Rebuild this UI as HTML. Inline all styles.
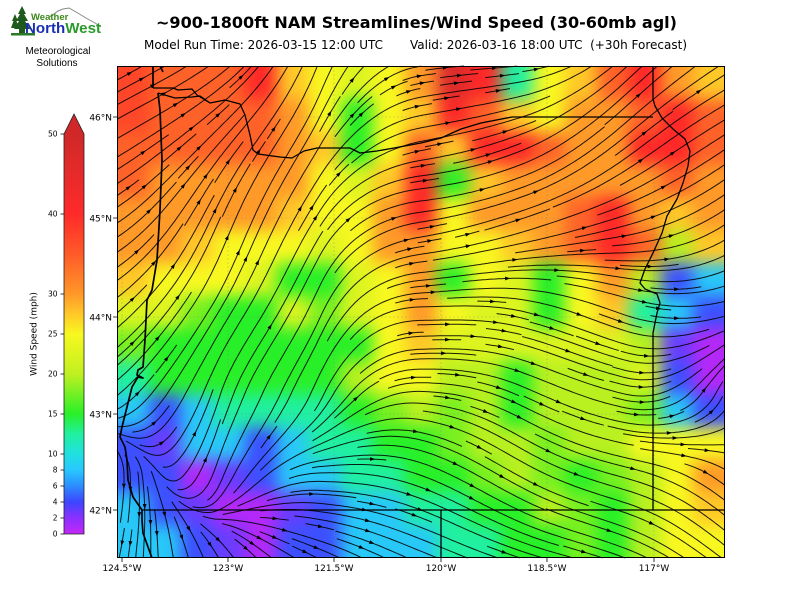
<!DOCTYPE html>
<html><head><meta charset="utf-8">
<style>
html,body{margin:0;padding:0;background:#fff}
body{width:800px;height:600px;position:relative;overflow:hidden;font-family:"DejaVu Sans","Liberation Sans",sans-serif}
#clip{position:absolute;left:117px;top:66px;width:608px;height:492px;overflow:hidden}
#fld{position:absolute;left:-32px;top:-32.8px;width:672px;display:grid;grid-template-columns:repeat(21,32px);grid-auto-rows:32.8px;filter:blur(8px)}
#fld i{display:block}
.P{background:#b428f8}.M{background:#6a3cff}.B{background:#3c50ff}.C{background:#28c8f8}
.T{background:#20f0a0}.G{background:#28f028}.H{background:#78f020}.L{background:#b8f020}
.S{background:#dcf420}.Y{background:#f8f820}.Q{background:#ffc828}.O{background:#ff9a28}
.R{background:#ff6228}.E{background:#ff4628}.D{background:#ff2828}.K{background:#dc2c2c}
svg{position:absolute;left:0;top:0}
</style></head><body>
<div id="clip"><div id="fld">
<i class=E></i><i class=E></i><i class=R></i><i class=R></i><i class=R></i><i class=D></i><i class=Q></i><i class=Y></i><i class=S></i><i class=Y></i><i class=O></i><i class=K></i><i class=D></i><i class=T></i><i class=Y></i><i class=Q></i><i class=R></i><i class=D></i><i class=O></i><i class=Q></i><i class=Q></i>
<i class=E></i><i class=E></i><i class=R></i><i class=R></i><i class=R></i><i class=D></i><i class=Q></i><i class=Y></i><i class=S></i><i class=Y></i><i class=O></i><i class=K></i><i class=D></i><i class=T></i><i class=Y></i><i class=Q></i><i class=R></i><i class=D></i><i class=O></i><i class=Q></i><i class=Q></i>
<i class=E></i><i class=E></i><i class=R></i><i class=R></i><i class=R></i><i class=R></i><i class=O></i><i class=Y></i><i class=G></i><i class=Y></i><i class=Q></i><i class=D></i><i class=R></i><i class=Q></i><i class=Y></i><i class=O></i><i class=O></i><i class=R></i><i class=D></i><i class=R></i><i class=R></i>
<i class=R></i><i class=R></i><i class=R></i><i class=R></i><i class=R></i><i class=R></i><i class=O></i><i class=Q></i><i class=G></i><i class=Y></i><i class=R></i><i class=Q></i><i class=D></i><i class=D></i><i class=R></i><i class=O></i><i class=O></i><i class=D></i><i class=D></i><i class=R></i><i class=R></i>
<i class=R></i><i class=R></i><i class=O></i><i class=O></i><i class=O></i><i class=O></i><i class=O></i><i class=Y></i><i class=S></i><i class=Q></i><i class=D></i><i class=G></i><i class=Q></i><i class=O></i><i class=O></i><i class=O></i><i class=O></i><i class=O></i><i class=R></i><i class=O></i><i class=O></i>
<i class=O></i><i class=O></i><i class=O></i><i class=O></i><i class=O></i><i class=O></i><i class=Q></i><i class=Y></i><i class=Y></i><i class=O></i><i class=D></i><i class=Y></i><i class=O></i><i class=O></i><i class=O></i><i class=R></i><i class=D></i><i class=O></i><i class=Q></i><i class=O></i><i class=O></i>
<i class=O></i><i class=O></i><i class=O></i><i class=Q></i><i class=Y></i><i class=Y></i><i class=Y></i><i class=S></i><i class=Y></i><i class=O></i><i class=O></i><i class=Y></i><i class=Y></i><i class=Q></i><i class=O></i><i class=R></i><i class=D></i><i class=R></i><i class=L></i><i class=Q></i><i class=Q></i>
<i class=Q></i><i class=Q></i><i class=Y></i><i class=Y></i><i class=Y></i><i class=S></i><i class=G></i><i class=G></i><i class=S></i><i class=Y></i><i class=O></i><i class=G></i><i class=Y></i><i class=S></i><i class=G></i><i class=Y></i><i class=O></i><i class=L></i><i class=B></i><i class=C></i><i class=C></i>
<i class=S></i><i class=S></i><i class=S></i><i class=H></i><i class=G></i><i class=G></i><i class=S></i><i class=H></i><i class=S></i><i class=Y></i><i class=O></i><i class=Y></i><i class=S></i><i class=S></i><i class=G></i><i class=Y></i><i class=Q></i><i class=T></i><i class=C></i><i class=B></i><i class=B></i>
<i class=H></i><i class=H></i><i class=G></i><i class=G></i><i class=G></i><i class=G></i><i class=G></i><i class=G></i><i class=G></i><i class=Y></i><i class=Q></i><i class=S></i><i class=S></i><i class=S></i><i class=S></i><i class=S></i><i class=S></i><i class=L></i><i class=M></i><i class=P></i><i class=P></i>
<i class=T></i><i class=T></i><i class=G></i><i class=G></i><i class=G></i><i class=G></i><i class=G></i><i class=G></i><i class=L></i><i class=Y></i><i class=Y></i><i class=L></i><i class=L></i><i class=G></i><i class=L></i><i class=L></i><i class=L></i><i class=S></i><i class=B></i><i class=P></i><i class=P></i>
<i class=C></i><i class=C></i><i class=B></i><i class=C></i><i class=T></i><i class=T></i><i class=T></i><i class=T></i><i class=G></i><i class=H></i><i class=L></i><i class=H></i><i class=L></i><i class=G></i><i class=L></i><i class=L></i><i class=L></i><i class=H></i><i class=C></i><i class=B></i><i class=B></i>
<i class=B></i><i class=B></i><i class=M></i><i class=C></i><i class=C></i><i class=B></i><i class=C></i><i class=T></i><i class=T></i><i class=G></i><i class=G></i><i class=H></i><i class=L></i><i class=L></i><i class=H></i><i class=L></i><i class=L></i><i class=Y></i><i class=Y></i><i class=Y></i><i class=Y></i>
<i class=B></i><i class=B></i><i class=B></i><i class=P></i><i class=M></i><i class=B></i><i class=C></i><i class=C></i><i class=T></i><i class=T></i><i class=G></i><i class=G></i><i class=H></i><i class=L></i><i class=H></i><i class=G></i><i class=H></i><i class=L></i><i class=Y></i><i class=O></i><i class=O></i>
<i class=C></i><i class=C></i><i class=B></i><i class=M></i><i class=P></i><i class=P></i><i class=M></i><i class=B></i><i class=C></i><i class=C></i><i class=T></i><i class=T></i><i class=G></i><i class=G></i><i class=L></i><i class=H></i><i class=G></i><i class=L></i><i class=Y></i><i class=Q></i><i class=Q></i>
<i class=C></i><i class=C></i><i class=C></i><i class=B></i><i class=M></i><i class=P></i><i class=B></i><i class=B></i><i class=C></i><i class=C></i><i class=C></i><i class=T></i><i class=T></i><i class=G></i><i class=G></i><i class=H></i><i class=G></i><i class=L></i><i class=Y></i><i class=Y></i><i class=Y></i>
<i class=C></i><i class=C></i><i class=C></i><i class=B></i><i class=M></i><i class=P></i><i class=B></i><i class=B></i><i class=C></i><i class=C></i><i class=C></i><i class=T></i><i class=T></i><i class=G></i><i class=G></i><i class=H></i><i class=G></i><i class=L></i><i class=Y></i><i class=Y></i><i class=Y></i>
</div></div>

<svg width="800" height="600" viewBox="0 0 800 600">
<defs>
<clipPath id="pc"><rect x="117" y="66" width="608" height="492"/></clipPath>
<linearGradient id="cb" x1="0" y1="0" x2="0" y2="1">
<stop offset="0" stop-color="#d02828"/>
<stop offset="0.1" stop-color="#e62a2a"/>
<stop offset="0.2" stop-color="#ff2a2a"/>
<stop offset="0.3" stop-color="#ff5a28"/>
<stop offset="0.4" stop-color="#ff9828"/>
<stop offset="0.45" stop-color="#ffc828"/>
<stop offset="0.5" stop-color="#f8f820"/>
<stop offset="0.6" stop-color="#c0f020"/>
<stop offset="0.7" stop-color="#28f028"/>
<stop offset="0.75" stop-color="#20f0a0"/>
<stop offset="0.8" stop-color="#20e0e0"/>
<stop offset="0.84" stop-color="#28c8ff"/>
<stop offset="0.88" stop-color="#2c8cff"/>
<stop offset="0.92" stop-color="#3c46ff"/>
<stop offset="0.96" stop-color="#8a30ff"/>
<stop offset="1" stop-color="#c428f8"/>
</linearGradient>
</defs>

<g clip-path="url(#pc)" stroke="#777" stroke-width="0.6" stroke-dasharray="2,2" opacity="0.45" fill="none">
<path d="M117,117H725M117,218H725M117,317H725M117,414H725M122,66V558M228,66V558M334,66V558M441,66V558M547,66V558M654,66V558"/>
</g>

<g transform="translate(117,66)">
<path id="sl" d="" fill="none" stroke="#000" stroke-width="1" stroke-opacity="0.88"/>
<path id="ar" d="" fill="#000" stroke="none"/>
</g>

<g clip-path="url(#pc)" fill="none" stroke="#000" stroke-linejoin="round">
<path stroke-width="1.7" d="M153,66L153,88M160,66L163,72M158,93L160,110L162,160L160,210L157,260L152,290L147,300L145,340L143,367L138,370L137,375L143,378L138,377L132,387L127,407L122,427L120,437L125,447L127,460L128,480L133,497L142,510L142,520L143,533L148,547L152,558"/>
<path stroke-width="1.3" d="M153,88L173,88L178,90L192,89L197,95L210,103L225,100L240,104L245,115L250,135L253,150L258,154L280,157L292,158L304,151L317,148L350,148L360,153L377,151L394,148L421,143L441,138L461,129L481,123L512,117L653,117M158,93L175,98L192,97L200,96L210,103"/>
<path stroke-width="1.3" d="M653,66L653,99L655,106L662,118L673,129L685,139L690,151L688,166L683,183L677,199L667,216L662,233L653,253L645,269L640,283L645,289L657,294L660,303L657,313L653,333L653,510M142,510L725,510M441,510L441,558"/>
</g>

<rect x="117.5" y="66.5" width="607" height="491" fill="none" stroke="#000" stroke-width="1"/>

<g stroke="#000" stroke-width="0.8">
<path d="M113,117H117M113,218H117M113,317H117M113,414H117M113,510H117M122,558V562M228,558V562M334,558V562M441,558V562M547,558V562M654,558V562"/>
</g>
<g font-family="DejaVu Sans, Liberation Sans, sans-serif" font-size="9" fill="#000">
<text x="112" y="120.5" text-anchor="end">46°N</text>
<text x="112" y="221.5" text-anchor="end">45°N</text>
<text x="112" y="320.5" text-anchor="end">44°N</text>
<text x="112" y="417.5" text-anchor="end">43°N</text>
<text x="112" y="513.5" text-anchor="end">42°N</text>
<text x="122" y="571" text-anchor="middle">124.5°W</text>
<text x="228" y="571" text-anchor="middle">123°W</text>
<text x="334" y="571" text-anchor="middle">121.5°W</text>
<text x="441" y="571" text-anchor="middle">120°W</text>
<text x="547" y="571" text-anchor="middle">118.5°W</text>
<text x="654" y="571" text-anchor="middle">117°W</text>
</g>

<!-- colorbar -->
<rect x="64" y="134" width="20" height="400" fill="url(#cb)"/>
<polygon points="64,134 84,134 74,114" fill="#d02828"/>
<path d="M64,534L64,134L74,114L84,134L84,534Z" fill="none" stroke="#222" stroke-width="0.8"/>
<g stroke="#000" stroke-width="0.8">
<path d="M60.5,134H64M60.5,214H64M60.5,294H64M60.5,334H64M60.5,374H64M60.5,414H64M60.5,454H64M60.5,470H64M60.5,486H64M60.5,502H64M60.5,518H64M60.5,534H64"/>
</g>
<g font-family="DejaVu Sans, Liberation Sans, sans-serif" font-size="7.5" fill="#000" text-anchor="end">
<text x="57.5" y="136.7">50</text>
<text x="57.5" y="216.7">40</text>
<text x="57.5" y="296.7">30</text>
<text x="57.5" y="336.7">25</text>
<text x="57.5" y="376.7">20</text>
<text x="57.5" y="416.7">15</text>
<text x="57.5" y="456.7">10</text>
<text x="57.5" y="472.7">8</text>
<text x="57.5" y="488.7">6</text>
<text x="57.5" y="504.7">4</text>
<text x="57.5" y="520.7">2</text>
<text x="57.5" y="536.7">0</text>
</g>
<text x="0" y="0" transform="translate(36.5,334) rotate(-90)" text-anchor="middle" font-family="DejaVu Sans, Liberation Sans, sans-serif" font-size="9" fill="#000">Wind Speed (mph)</text>

<!-- titles -->
<text x="416.5" y="28" text-anchor="middle" font-family="DejaVu Sans, Liberation Sans, sans-serif" font-weight="bold" font-size="16" fill="#000" textLength="521" lengthAdjust="spacingAndGlyphs">~900-1800ft NAM Streamlines/Wind Speed (30-60mb agl)</text>
<text x="144" y="49" font-family="DejaVu Sans, Liberation Sans, sans-serif" font-size="12" fill="#000" textLength="239" lengthAdjust="spacingAndGlyphs">Model Run Time: 2026-03-15 12:00 UTC</text>
<text x="410" y="49" font-family="DejaVu Sans, Liberation Sans, sans-serif" font-size="12" fill="#000" textLength="277" lengthAdjust="spacingAndGlyphs" xml:space="preserve">Valid: 2026-03-16 18:00 UTC  (+30h Forecast)</text>

<!-- logo -->
<path d="M50,17L58,11L63,9L69,8L76,12L86,18L95,23L101,27" fill="none" stroke="#888" stroke-width="1"/>
<g fill="#1e5a1e">
<polygon points="22,6 18,14 20,14 16,21 19,21 14,29 19,29 19,33 25,33 25,29 30,29 25,21 28,21 24,14 26,14"/>
<polygon points="15,14 12,21 13.5,21 11,28 19,28 16.5,21 18,21"/>
</g>
<rect x="11" y="33" width="24" height="2.5" fill="#2a7a2a"/>
<text x="31" y="20" font-family="Liberation Sans, sans-serif" font-weight="bold" font-size="9.5" fill="#3a8a1a">Weather</text>
<text x="25" y="33" font-family="Liberation Sans, sans-serif" font-weight="bold" font-size="15" textLength="76" lengthAdjust="spacingAndGlyphs"><tspan fill="#1a2fb0">North</tspan><tspan fill="#2a9a2a">West</tspan></text>
<text x="58" y="54" text-anchor="middle" font-family="Liberation Sans, sans-serif" font-size="10" fill="#000">Meteorological</text>
<text x="57" y="66" text-anchor="middle" font-family="Liberation Sans, sans-serif" font-size="10" fill="#000">Solutions</text>
</svg>

<script>
(function(){
var W=608,H=492,cs=7.5,minL=24,h=1.0;
var A=[
[-35,-45,-60,-5,-10,-40,-40],
[-35,-50,-60,-20,-15,-30,-40],
[-35,-55,-60,-15,-15,-20,-30],
[-40,-60,-70,10,15,10,-10],
[-30,-80,-70,5,20,20,-60],
[90,-70,10,15,20,20,35],
[90,60,30,20,25,20,25]];
var D=Math.PI/180;
var U=A.map(function(r){return r.map(function(a){return Math.cos(a*D);});});
var V=A.map(function(r){return r.map(function(a){return Math.sin(a*D);});});
function vel(x,y){
  var fx=x/W*6, fy=y/H*6;
  var i=Math.floor(fx), j=Math.floor(fy);
  if(i<0)i=0; if(i>5)i=5; if(j<0)j=0; if(j>5)j=5;
  var tx=fx-i, ty=fy-j;
  function g(M){return (M[j][i]*(1-tx)+M[j][i+1]*tx)*(1-ty)+(M[j+1][i]*(1-tx)+M[j+1][i+1]*tx)*ty;}
  var u=g(U), v=g(V);
  var a=Math.atan2(v,u)+0.12*Math.sin(x/47+y/63)+0.08*Math.cos(y/38-x/90);
  return [Math.cos(a),Math.sin(a)];
}
var nx=Math.ceil(W/cs), ny=Math.ceil(H/cs);
var mask=new Int32Array(nx*ny);
function cell(x,y){return Math.floor(y/cs)*nx+Math.floor(x/cs);}
function half(x0,y0,dir,myid,cells){
  var pts=[], x=x0, y=y0, c=cell(x,y);
  for(var s=0;s<3000;s++){
    var v1=vel(x,y);
    var v2=vel(x+dir*v1[0]*h/2, y+dir*v1[1]*h/2);
    x+=dir*v2[0]*h; y+=dir*v2[1]*h;
    if(x<0||y<0||x>=W||y>=H) break;
    var nc=cell(x,y);
    if(nc!==c){ if(mask[nc]) break; mask[nc]=myid; cells.push(nc); c=nc; }
    pts.push([x,y]);
  }
  return pts;
}
var order=[], x0=0,y0=0,x1=nx-1,y1=ny-1,i,j;
while(x0<=x1&&y0<=y1){
  for(i=x0;i<=x1;i++)order.push([i,y0]);
  for(j=y0+1;j<=y1;j++)order.push([x1,j]);
  if(y0<y1)for(i=x1-1;i>=x0;i--)order.push([i,y1]);
  if(x0<x1)for(j=y1-1;j>y0;j--)order.push([x0,j]);
  x0++;y0++;x1--;y1--;
}
var lines=[], id=0;
order.forEach(function(o){
  var k=o[1]*nx+o[0]; if(mask[k]) return;
  id++; mask[k]=id; var cells=[k];
  var sx=(o[0]+0.5)*cs, sy=(o[1]+0.5)*cs;
  var f=half(sx,sy,1,id,cells), b=half(sx,sy,-1,id,cells);
  if((f.length+b.length)*h<minL){ cells.forEach(function(c){mask[c]=0;}); return; }
  lines.push(b.reverse().concat([[sx,sy]],f));
});
var dl=[], da=[];
function P(p){return p[0].toFixed(1)+','+p[1].toFixed(1);}
lines.forEach(function(p){
  var s='M'+P(p[0]);
  for(var k=3;k<p.length;k+=3) s+='L'+P(p[k]);
  s+='L'+P(p[p.length-1]);
  dl.push(s);
  var m=Math.floor(p.length/2), a=p[Math.max(0,m-2)], b=p[Math.min(p.length-1,m+2)];
  var dx=b[0]-a[0], dy=b[1]-a[1], L=Math.hypot(dx,dy)||1; dx/=L; dy/=L;
  var cx=p[m][0], cy=p[m][1];
  da.push('M'+(cx+dx*3).toFixed(1)+','+(cy+dy*3).toFixed(1)+
    'L'+(cx-dx*2.2-dy*1.9).toFixed(1)+','+(cy-dy*2.2+dx*1.9).toFixed(1)+
    'L'+(cx-dx*2.2+dy*1.9).toFixed(1)+','+(cy-dy*2.2-dx*1.9).toFixed(1)+'Z');
});
document.getElementById('sl').setAttribute('d',dl.join(''));
document.getElementById('ar').setAttribute('d',da.join(''));
})();
</script>
</body></html>
